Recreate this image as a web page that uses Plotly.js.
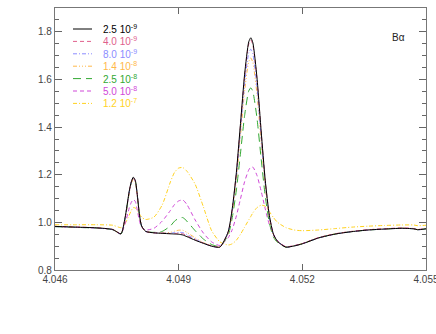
<!DOCTYPE html>
<html>
<head>
<meta charset="utf-8">
<script src="https://cdn.plot.ly/plotly-3.0.1.min.js"></script>
<style>
  body { margin: 0; background: #fff; }
  #chart { width: 436px; height: 334px; }
</style>
</head>
<body>
<div id="chart"></div>
<script>
// wavelength grid (micron)
var wave = [4.0460, 4.0465, 4.0470, 4.0474, 4.0476, 4.0477, 4.0478, 4.04785, 4.0479, 4.04795,
  4.0480, 4.04805, 4.0481, 4.0482, 4.0484, 4.0486, 4.0488, 4.0489, 4.0490, 4.0491,
  4.0492, 4.0494, 4.0496, 4.0498, 4.0500, 4.0502, 4.0503, 4.0504, 4.0505, 4.0506,
  4.0507, 4.05075, 4.0508, 4.0509, 4.0510, 4.0511, 4.0512, 4.0513, 4.0514, 4.0516,
  4.0518, 4.0520, 4.0524, 4.0528, 4.0532, 4.0536, 4.0540, 4.0544, 4.0547, 4.0548, 4.0550];

var f25e9 = [0.983, 0.980, 0.977, 0.970, 0.952, 1.020, 1.130, 1.170, 1.190, 1.175,
  1.110, 1.030, 0.985, 0.962, 0.956, 0.954, 0.952, 0.951, 0.950, 0.947,
  0.940, 0.925, 0.912, 0.900, 0.896, 0.960, 1.058, 1.210, 1.415, 1.622,
  1.758, 1.775, 1.754, 1.607, 1.386, 1.177, 1.029, 0.950, 0.920, 0.896,
  0.901, 0.910, 0.935, 0.951, 0.961, 0.968, 0.972, 0.975, 0.973, 0.969, 0.973];
var f40e9 = [0.983, 0.980, 0.977, 0.970, 0.952, 1.018, 1.128, 1.168, 1.188, 1.173,
  1.108, 1.030, 0.985, 0.962, 0.956, 0.955, 0.953, 0.953, 0.954, 0.952,
  0.944, 0.927, 0.913, 0.901, 0.897, 0.959, 1.056, 1.207, 1.410, 1.615,
  1.749, 1.766, 1.745, 1.600, 1.381, 1.174, 1.028, 0.950, 0.920, 0.897,
  0.902, 0.911, 0.936, 0.952, 0.962, 0.969, 0.973, 0.976, 0.974, 0.970, 0.974];
var f80e9 = [0.982, 0.979, 0.976, 0.969, 0.951, 1.017, 1.127, 1.167, 1.187, 1.172,
  1.107, 1.029, 0.985, 0.962, 0.956, 0.955, 0.954, 0.957, 0.958, 0.957,
  0.949, 0.930, 0.913, 0.900, 0.896, 0.957, 1.049, 1.193, 1.387, 1.582,
  1.711, 1.727, 1.707, 1.568, 1.359, 1.162, 1.022, 0.947, 0.919, 0.896,
  0.901, 0.910, 0.935, 0.951, 0.961, 0.968, 0.972, 0.975, 0.973, 0.969, 0.973];
var f14e8 = [0.983, 0.980, 0.977, 0.970, 0.952, 1.016, 1.124, 1.163, 1.182, 1.168,
  1.104, 1.028, 0.985, 0.962, 0.956, 0.955, 0.958, 0.963, 0.967, 0.967,
  0.958, 0.935, 0.915, 0.902, 0.897, 0.954, 1.043, 1.180, 1.365, 1.552,
  1.675, 1.690, 1.671, 1.538, 1.339, 1.150, 1.016, 0.945, 0.918, 0.897,
  0.902, 0.911, 0.936, 0.952, 0.962, 0.969, 0.973, 0.976, 0.974, 0.970, 0.974];
var f25e8 = [0.982, 0.979, 0.976, 0.969, 0.951, 1.015, 1.125, 1.165, 1.185, 1.170,
  1.105, 1.028, 0.985, 0.962, 0.958, 0.962, 0.985, 1.005, 1.017, 1.020,
  1.005, 0.965, 0.930, 0.907, 0.899, 0.946, 1.020, 1.136, 1.291, 1.449,
  1.552, 1.565, 1.549, 1.437, 1.269, 1.111, 0.998, 0.938, 0.915, 0.896,
  0.901, 0.910, 0.935, 0.951, 0.961, 0.968, 0.972, 0.975, 0.973, 0.969, 0.973];
var f50e8 = [0.983, 0.980, 0.977, 0.970, 0.952, 0.994, 1.060, 1.084, 1.096, 1.087,
  1.048, 1.005, 0.980, 0.968, 0.975, 1.005, 1.050, 1.075, 1.090, 1.094,
  1.075, 1.010, 0.955, 0.918, 0.903, 0.935, 0.970, 1.027, 1.099, 1.171,
  1.220, 1.232, 1.232, 1.197, 1.132, 1.057, 0.990, 0.950, 0.922, 0.898,
  0.902, 0.911, 0.936, 0.952, 0.962, 0.969, 0.973, 0.976, 0.974, 0.970, 0.974];
var f12e7 = [0.990, 0.990, 0.990, 0.988, 0.978, 0.995, 1.030, 1.050, 1.062, 1.060,
  1.050, 1.035, 1.022, 1.012, 1.022, 1.073, 1.170, 1.210, 1.228, 1.230,
  1.215, 1.160, 1.065, 0.965, 0.918, 0.905, 0.910, 0.925, 0.950, 0.980,
  1.010, 1.025, 1.040, 1.062, 1.072, 1.068, 1.045, 1.020, 1.000, 0.978,
  0.968, 0.965, 0.968, 0.974, 0.980, 0.984, 0.987, 0.989, 0.989, 0.986, 0.988];

var labels = ["2.5 10<sup>-9</sup>", "4.0 10<sup>-9</sup>", "8.0 10<sup>-9</sup>",
  "1.4 10<sup>-8</sup>", "2.5 10<sup>-8</sup>", "5.0 10<sup>-8</sup>", "1.2 10<sup>-7</sup>"];
var series = [f25e9, f40e9, f80e9, f14e8, f25e8, f50e8, f12e7];
var colors = ["#000000", "#e0608c", "#8c8cff", "#ffb84a", "#32a832", "#d048d8", "#ffd21e"];
var dashes = ["solid", "4px,3px", "4px,2px,1px,2px", "4px,2px,1px,2px,1px,2px,1px,2px",
  "8px,5px", "4px,3px", "4px,2px,1px,2px"];

var traces = [];
// draw the strongest line last so it sits on top, like the original
for (var i = series.length - 1; i >= 0; i--) {
  traces.push({
    x: wave,
    y: series[i],
    mode: "lines",
    name: labels[i],
    line: { color: colors[i], width: 1, dash: dashes[i], shape: "spline", smoothing: 0.6 },
    showlegend: false,
    hoverinfo: "skip"
  });
}

// hand made legend, rows 12.4px apart
var shapes = [], annotations = [];
var plotH = 262, plotW = 371;
for (var k = 0; k < labels.length; k++) {
  var yy = 1 - (21 + 12.4 * k) / plotH;
  shapes.push({
    type: "line", xref: "paper", yref: "paper",
    x0: 18 / plotW, x1: 37 / plotW, y0: yy, y1: yy,
    line: { color: colors[k], width: 1, dash: dashes[k] }
  });
  annotations.push({
    xref: "paper", yref: "paper", x: 46 / plotW, y: yy,
    xanchor: "left", yanchor: "middle", showarrow: false,
    text: labels[k], font: { family: "Liberation Sans, Arial, sans-serif", size: 10, color: colors[k] }
  });
}
annotations.push({
  xref: "paper", yref: "paper", x: 343 / plotW, y: 1 - 29 / plotH,
  xanchor: "center", yanchor: "middle", showarrow: false,
  text: "B\u03b1", font: { family: "Liberation Sans, Arial, sans-serif", size: 10, color: "#222" }
});

var layout = {
  width: 436,
  height: 334,
  margin: { l: 55, r: 10, t: 8, b: 64 },
  paper_bgcolor: "#fff",
  plot_bgcolor: "#fff",
  showlegend: false,
  font: { family: "Liberation Sans, Arial, sans-serif", size: 10, color: "#444" },
  xaxis: {
    range: [4.046, 4.055],
    tickvals: [4.046, 4.049, 4.052, 4.055],
    ticktext: ["4.046", "4.049", "4.052", "4.055"],
    ticklabeloverflow: "allow",
    ticks: "inside", ticklen: 6, tickcolor: "#666", tickwidth: 1,
    showline: true, linecolor: "#777", linewidth: 1.2, mirror: "ticks",
    showgrid: false, zeroline: false, fixedrange: true
  },
  yaxis: {
    range: [0.8, 1.9],
    tickvals: [0.8, 1.0, 1.2, 1.4, 1.6, 1.8],
    ticktext: ["0.8", "1.0", "1.2", "1.4", "1.6", "1.8"],
    ticks: "inside", ticklen: 7, tickcolor: "#666", tickwidth: 1,
    minor: { dtick: 0.05, tick0: 0.8, ticks: "inside", ticklen: 4, tickcolor: "#666", showgrid: false },
    showline: true, linecolor: "#777", linewidth: 1.2, mirror: "ticks",
    showgrid: false, zeroline: false, fixedrange: true
  },
  shapes: shapes,
  annotations: annotations
};

Plotly.newPlot("chart", traces, layout, { displayModeBar: false, staticPlot: true });
</script>
</body>
</html>
